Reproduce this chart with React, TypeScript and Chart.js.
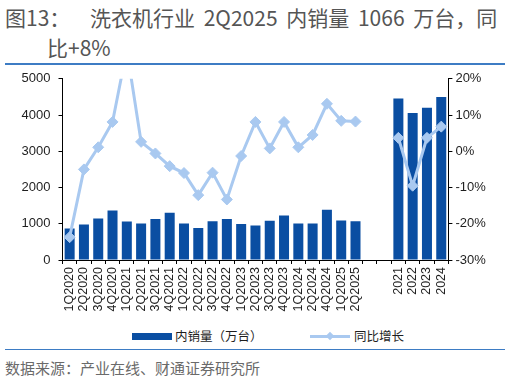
import React, { useEffect, useRef } from 'react';
import { Chart, registerables } from 'chart.js';

Chart.register(...registerables);

const categories = [
  '1Q2020', '2Q2020', '3Q2020', '4Q2020',
  '1Q2021', '2Q2021', '3Q2021', '4Q2021',
  '1Q2022', '2Q2022', '3Q2022', '4Q2022',
  '1Q2023', '2Q2023', '3Q2023', '4Q2023',
  '1Q2024', '2Q2024', '4Q2024', '1Q2025', '2Q2025',
  '', '',
  '2021', '2022', '2023', '2024',
];

const salesValues = [
  866, 981, 1142, 1366,
  1062, 1008, 1134, 1304,
  1008, 882, 1070, 1134,
  990, 954, 1080, 1231,
  1008, 1008, 1384, 1089, 1066,
  null, null,
  4457, 4054, 4199, 4495,
];

const yoyValues = [
  -23.7, -5.0, 1.1, 8.1,
  28, 2.6, -0.6, -4.1,
  -6.0, -12.1, -5.9, -13.3,
  -1.3, 8.1, 0.8, 8.1,
  1.1, 4.5, 13.1, 8.4, 8.2,
  null, null,
  3.7, -9.5, 3.7, 6.8,
];

const leftTicks = [0, 1000, 2000, 3000, 4000, 5000];
const rightTicks = [-30, -20, -10, 0, 10, 20];

const BAR_COLOR = '#0a4ea2';
const LINE_COLOR = '#a9c9f0';
const TEXT_COLOR = '#1e1e1e';
const RULE_COLOR = '#3d7cc4';

export default function App() {
  const canvasRef = useRef<HTMLCanvasElement | null>(null);

  useEffect(() => {
    if (!canvasRef.current) return;
    const tickFont = { family: '"Liberation Sans", Arial, sans-serif', size: 13 };
    const chart = new Chart(canvasRef.current, {
      type: 'bar',
      data: {
        labels: categories,
        datasets: [
          {
            type: 'line',
            label: '同比增长',
            data: yoyValues,
            yAxisID: 'y1',
            borderColor: LINE_COLOR,
            backgroundColor: LINE_COLOR,
            borderWidth: 3,
            pointStyle: 'rectRot',
            pointRadius: 5.5,
            pointBorderWidth: 1,
            pointBackgroundColor: LINE_COLOR,
            pointBorderColor: LINE_COLOR,
            tension: 0,
            spanGaps: false,
            order: 0,
          },
          {
            type: 'bar',
            label: '内销量（万台）',
            data: salesValues,
            yAxisID: 'y',
            backgroundColor: BAR_COLOR,
            borderWidth: 0,
            categoryPercentage: 1,
            barPercentage: 0.7,
            order: 1,
          },
        ],
      },
      options: {
        responsive: false,
        animation: false,
        maintainAspectRatio: false,
        layout: { padding: { top: 11, left: 0, right: 0, bottom: 0 } },
        plugins: {
          legend: { display: false },
          tooltip: { enabled: false },
        },
        scales: {
          x: {
            type: 'category',
            offset: true,
            border: { color: '#000', width: 1 },
            grid: {
              offset: true,
              drawOnChartArea: false,
              drawTicks: true,
              tickLength: 4,
              color: '#000',
            },
            ticks: {
              autoSkip: false,
              minRotation: 90,
              maxRotation: 90,
              padding: 3,
              color: TEXT_COLOR,
              font: { family: '"Liberation Sans", Arial, sans-serif', size: 12.5 },
            },
            afterFit: (s: any) => { s.height = 63; },
          },
          y: {
            position: 'left',
            min: 0,
            max: 5000,
            border: { color: '#000', width: 1 },
            grid: { drawOnChartArea: false, tickLength: 4, color: '#000' },
            afterBuildTicks: (s: any) => { s.ticks = leftTicks.map((v) => ({ value: v })); },
            ticks: {
              padding: 8,
              color: TEXT_COLOR,
              font: tickFont,
              callback: (v: any) => String(v),
            },
            afterFit: (s: any) => { s.width = 62.5; },
          },
          y1: {
            position: 'right',
            min: -30,
            max: 20,
            border: { color: '#000', width: 1 },
            grid: { drawOnChartArea: false, tickLength: 4, color: '#000' },
            afterBuildTicks: (s: any) => { s.ticks = rightTicks.map((v) => ({ value: v })); },
            ticks: {
              padding: 3,
              color: TEXT_COLOR,
              font: tickFont,
              callback: (v: any) => `${v}%`,
            },
            afterFit: (s: any) => { s.width = 61.6; },
          },
        },
      },
    });
    return () => chart.destroy();
  }, []);

  const cjk = '"Noto Sans CJK SC", "Noto Sans", sans-serif';

  return (
    <div
      style={{
        position: 'absolute',
        left: 0,
        top: 0,
        width: 510,
        height: 379,
        background: '#fff',
        overflow: 'hidden',
        fontFamily: cjk,
      }}
    >
      <div style={{ position: 'absolute', left: 5, top: 3, fontSize: 21, lineHeight: '28px', color: '#555', whiteSpace: 'nowrap' }}>
        图13：
      </div>
      <div style={{ position: 'absolute', left: 90, top: 3, fontSize: 21, lineHeight: '28px', color: '#555', whiteSpace: 'nowrap', wordSpacing: 4 }}>
        洗衣机行业 2Q2025 内销量 1066 万台，同
      </div>
      <div style={{ position: 'absolute', left: 47, top: 33, fontSize: 21, lineHeight: '28px', color: '#555', whiteSpace: 'nowrap' }}>
        比+8%
      </div>
      <div style={{ position: 'absolute', left: 5, top: 63, width: 500, height: 1.5, background: RULE_COLOR }} />
      <canvas
        ref={canvasRef}
        width={510}
        height={260}
        style={{ position: 'absolute', left: 0, top: 63, width: 510, height: 260 }}
      />
      <div style={{ position: 'absolute', left: 132, top: 333, width: 40, height: 7, background: BAR_COLOR }} />
      <div style={{ position: 'absolute', left: 175, top: 327, fontSize: 12.5, lineHeight: '18px', color: TEXT_COLOR, whiteSpace: 'nowrap' }}>
        内销量（万台）
      </div>
      <div style={{ position: 'absolute', left: 310, top: 335, width: 40, height: 2.5, background: LINE_COLOR }} />
      <div
        style={{
          position: 'absolute',
          left: 326.5,
          top: 332.5,
          width: 6,
          height: 6,
          background: LINE_COLOR,
          transform: 'rotate(45deg)',
        }}
      />
      <div style={{ position: 'absolute', left: 354, top: 327, fontSize: 12.5, lineHeight: '18px', color: TEXT_COLOR, whiteSpace: 'nowrap' }}>
        同比增长
      </div>
      <div style={{ position: 'absolute', left: 5, top: 348.5, width: 500, height: 1.5, background: RULE_COLOR }} />
      <div style={{ position: 'absolute', left: 5, top: 357, fontSize: 15, lineHeight: '22px', color: '#6a6a6a', whiteSpace: 'nowrap' }}>
        数据来源：产业在线、财通证券研究所
      </div>
    </div>
  );
}
